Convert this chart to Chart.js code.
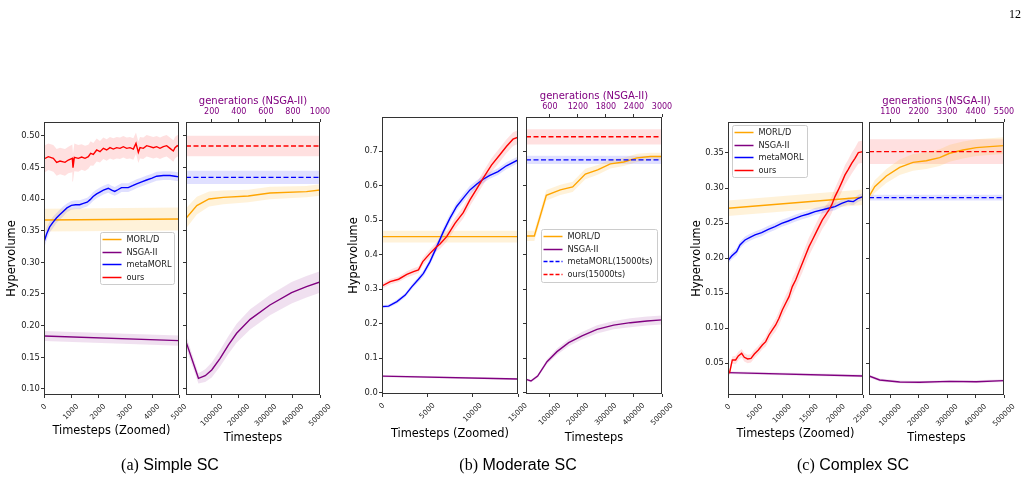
<!DOCTYPE html>
<html>
<head>
<meta charset="utf-8">
<script src="https://cdn.jsdelivr.net/npm/chart.js@4.4.1/dist/chart.umd.min.js"></script>
<style>
  body { margin: 0; background: #fff; }
  #wrap { position: relative; width: 1032px; height: 480px; overflow: hidden; }
  #wrap canvas { position: absolute; left: 0; top: 0; }
  .cap { position: absolute; top: 455px; font: 16px "Liberation Sans", Arial, sans-serif; color: #000;
         transform: translateX(-50%); white-space: nowrap; line-height: 20px; }
  .cap span { font-family: "Liberation Serif", "Times New Roman", serif; }
  #page { position: absolute; left: 1009px; top: 7px; font: 12px "Liberation Serif", serif; color: #000; }
</style>
</head>
<body>
<div id="wrap">
  <canvas id="c1" width="1032" height="480"></canvas>
  <canvas id="c2" width="1032" height="480"></canvas>
  <canvas id="c3" width="1032" height="480"></canvas>
  <canvas id="c4" width="1032" height="480"></canvas>
  <canvas id="c5" width="1032" height="480"></canvas>
  <canvas id="c6" width="1032" height="480"></canvas>
  <div class="cap" style="left:170px"><span>(a)</span> Simple SC</div>
  <div class="cap" style="left:518px"><span>(b)</span> Moderate SC</div>
  <div class="cap" style="left:853px"><span>(c)</span> Complex SC</div>
  <div id="page">12</div>
</div>
<script>
// ---- tick values ----
const simpleYTicks = [0.10, 0.15, 0.20, 0.25, 0.30, 0.35, 0.40, 0.45, 0.50];
const moderateYTicks = [0.0, 0.1, 0.2, 0.3, 0.4, 0.5, 0.6, 0.7];
const complexYTicks = [0.05, 0.10, 0.15, 0.20, 0.25, 0.30, 0.35];
const simpleZoomXTicks = [0, 1000, 2000, 3000, 4000, 5000];
const moderateZoomXTicks = [0, 5000, 10000, 15000];
const complexZoomXTicks = [0, 5000, 10000, 15000, 20000, 25000];
const fullXTicks = [100000, 200000, 300000, 400000, 500000];
const simpleGenTicks = [200, 400, 600, 800, 1000];
const moderateGenTicks = [600, 1200, 1800, 2400, 3000];
const complexGenTicks = [1100, 2200, 3300, 4400, 5500];

// ---- (a) Simple SC, zoomed ----
const sZ_morldX = [0, 5000];
const sZ_morldY = [0.3668, 0.3684];
const sZ_morldW = [0.018, 0.018];
const sZ_nsgaX = [0, 5000];
const sZ_nsgaY = [0.1837, 0.1763];
const sZ_nsgaW = [0.008, 0.008];
const sZ_metaX = [0, 100, 210, 330, 460, 580, 700, 850, 1015, 1170,
  1320, 1460, 1600, 1710, 1820, 1950, 2070, 2200, 2380, 2506,
  2620, 2750, 2870, 3000, 3120, 3280, 3430, 3620, 3800, 4000,
  4170, 4420, 4667, 4850, 5000];
const sZ_metaY = [0.332, 0.345, 0.356, 0.363, 0.370, 0.375, 0.380, 0.386, 0.390, 0.391,
  0.391, 0.393, 0.395, 0.399, 0.404, 0.408, 0.411, 0.414, 0.417, 0.414,
  0.412, 0.415, 0.418, 0.418, 0.418, 0.421, 0.424, 0.427, 0.430, 0.433,
  0.436, 0.437, 0.437, 0.436, 0.435];
const sZ_metaW = [0.010, 0.010, 0.009, 0.009, 0.008, 0.008, 0.008, 0.007, 0.007, 0.007,
  0.007, 0.007, 0.007, 0.007, 0.007, 0.007, 0.007, 0.007, 0.007, 0.007,
  0.007, 0.007, 0.007, 0.007, 0.007, 0.007, 0.007, 0.007, 0.007, 0.007,
  0.007, 0.007, 0.007, 0.007, 0.007];
const sZ_oursX = [0, 37, 160, 346, 469, 593, 778, 901, 1049, 1074,
  1123, 1272, 1395, 1519, 1642, 1728, 1827, 1951, 2074, 2198,
  2321, 2444, 2568, 2691, 2815, 2938, 3062, 3185, 3309, 3407,
  3494, 3556, 3679, 3802, 3926, 4049, 4173, 4296, 4420, 4543,
  4667, 4790, 4852, 4938, 5000];
const sZ_oursY = [0.4632, 0.4632, 0.4668, 0.4642, 0.4579, 0.4600, 0.4579, 0.4616, 0.4642, 0.4495,
  0.4658, 0.4642, 0.4663, 0.4642, 0.4668, 0.4721, 0.4705, 0.4774, 0.4747, 0.4800,
  0.4774, 0.4811, 0.4789, 0.4811, 0.4800, 0.4826, 0.4800, 0.4811, 0.4789, 0.4879,
  0.4737, 0.4811, 0.4800, 0.4842, 0.4826, 0.4811, 0.4826, 0.4800, 0.4826, 0.4842,
  0.4800, 0.4758, 0.4811, 0.4842, 0.4826];
const sZ_oursW = [0.021, 0.021, 0.021, 0.021, 0.021, 0.021, 0.021, 0.021, 0.022, 0.022,
  0.022, 0.021, 0.020, 0.020, 0.019, 0.019, 0.018, 0.018, 0.017, 0.017,
  0.017, 0.017, 0.017, 0.017, 0.017, 0.017, 0.017, 0.017, 0.017, 0.017,
  0.017, 0.017, 0.017, 0.017, 0.017, 0.017, 0.017, 0.017, 0.017, 0.017,
  0.017, 0.017, 0.017, 0.017, 0.017];

// ---- (a) Simple SC, full ----
const sF_morldX = [5000, 45000, 90000, 143000, 235000, 315000, 450000, 500000];
const sF_morldY = [0.3695, 0.3895, 0.4000, 0.4026, 0.4047, 0.4095, 0.4116, 0.4142];
const sF_morldW = [0.016, 0.014, 0.012, 0.011, 0.010, 0.010, 0.009, 0.009];
const sF_nsgaX = [5000, 51000, 76000, 100000, 131000, 162000, 192000, 242000, 315000, 395000, 450000, 500000];
const sF_nsgaY = [0.1747, 0.1168, 0.1210, 0.1300, 0.1484, 0.1695, 0.1879, 0.2100, 0.2326, 0.2521, 0.2616, 0.2689];
const sF_nsgaW = [0.010, 0.008, 0.010, 0.012, 0.013, 0.014, 0.015, 0.016, 0.016, 0.017, 0.017, 0.017];
const sF_metaX = [5000, 500000];
const sF_metaY = [0.4342, 0.4342];
const sF_metaW = [0.0105, 0.0105];
const sF_oursX = [5000, 500000];
const sF_oursY = [0.4837, 0.4837];
const sF_oursW = [0.016, 0.016];

// ---- (b) Moderate SC, zoomed ----
const mZ_morldX = [0, 15000];
const mZ_morldY = [0.4526, 0.4526];
const mZ_morldW = [0.017, 0.017];
const mZ_nsgaX = [0, 15000];
const mZ_nsgaY = [0.0480, 0.0397];
const mZ_nsgaW = [0.003, 0.003];
const mZ_metaX = [0, 730, 1650, 2560, 3300, 4025, 4570, 5300, 6040, 6770,
  7500, 8230, 8960, 9700, 10430, 11160, 11890, 12800, 13720, 15000];
const mZ_metaY = [0.2495, 0.2510, 0.2640, 0.2830, 0.3075, 0.3290, 0.3460, 0.3800, 0.4236, 0.4670,
  0.5060, 0.5400, 0.5640, 0.5880, 0.6045, 0.6190, 0.6300, 0.6410, 0.6580, 0.6750];
const mZ_metaW = [0.005, 0.005, 0.006, 0.006, 0.007, 0.008, 0.009, 0.010, 0.011, 0.012,
  0.012, 0.012, 0.012, 0.012, 0.011, 0.011, 0.010, 0.010, 0.010, 0.010];
const mZ_oursX = [0, 900, 1830, 2740, 3475, 4025, 4500, 5300, 6040, 6400,
  7135, 8050, 8960, 9700, 10430, 11160, 12075, 13000, 13720, 14450, 15000];
const mZ_oursY = [0.3095, 0.3220, 0.3290, 0.3430, 0.3510, 0.3560, 0.3800, 0.4040, 0.4236, 0.4310,
  0.4526, 0.4910, 0.5220, 0.5590, 0.5900, 0.6220, 0.6600, 0.6900, 0.7140, 0.7350, 0.7410];
const mZ_oursW = [0.008, 0.008, 0.008, 0.009, 0.010, 0.010, 0.011, 0.012, 0.013, 0.014,
  0.015, 0.016, 0.017, 0.018, 0.018, 0.019, 0.020, 0.020, 0.020, 0.020, 0.020];

// ---- (b) Moderate SC, full ----
const mF_morldX = [15000, 44700, 87500, 137400, 181400, 226600, 270600, 315700, 363300, 410900, 458400, 500000];
const mF_morldY = [0.4545, 0.4545, 0.5725, 0.5880, 0.5967, 0.6340, 0.6460, 0.6634, 0.6690, 0.6810, 0.6847, 0.6847];
const mF_morldW = [0.015, 0.015, 0.015, 0.015, 0.015, 0.015, 0.014, 0.013, 0.012, 0.012, 0.011, 0.011];
const mF_nsgaX = [15000, 32800, 56600, 89900, 125500, 167200, 214700, 268200, 327700, 387100, 446600, 500000];
const mF_nsgaY = [0.0387, 0.0338, 0.0480, 0.0900, 0.1190, 0.1450, 0.1650, 0.1838, 0.1960, 0.2030, 0.2080, 0.2110];
const mF_nsgaW = [0.004, 0.004, 0.005, 0.007, 0.009, 0.010, 0.011, 0.012, 0.012, 0.013, 0.013, 0.013];
const mF_metaX = [15000, 500000];
const mF_metaY = [0.675, 0.675];
const mF_metaW = [0.012, 0.012];
const mF_oursX = [15000, 500000];
const mF_oursY = [0.742, 0.742];
const mF_oursW = [0.022, 0.022];

// ---- (c) Complex SC, zoomed ----
const cZ_morldX = [0, 25000];
const cZ_morldY = [0.2711, 0.2868];
const cZ_morldW = [0.011, 0.011];
const cZ_nsgaX = [0, 25000];
const cZ_nsgaY = [0.0367, 0.0320];
const cZ_nsgaW = [0.002, 0.002];
const cZ_metaX = [0, 680, 1600, 2220, 3150, 4070, 5000, 6230, 7470, 8700,
  9940, 11170, 12410, 13640, 14880, 16110, 17350, 18580, 19810, 21050,
  22280, 23210, 24140, 25000];
const cZ_metaY = [0.1965, 0.2031, 0.2093, 0.2188, 0.2259, 0.2297, 0.2331, 0.2364, 0.2412, 0.2450,
  0.2497, 0.2530, 0.2568, 0.2602, 0.2630, 0.2664, 0.2687, 0.2711, 0.2735, 0.2782,
  0.2816, 0.2806, 0.2854, 0.2878];
const cZ_metaW = [0.005, 0.005, 0.005, 0.005, 0.005, 0.005, 0.005, 0.005, 0.005, 0.005,
  0.005, 0.005, 0.005, 0.005, 0.005, 0.005, 0.005, 0.005, 0.005, 0.005,
  0.005, 0.005, 0.005, 0.005];
const cZ_oursX = [0, 300, 800, 1420, 1910, 2530, 3020, 3640, 4260, 4880,
  5620, 6360, 6980, 7590, 8210, 8830, 9440, 10060, 10680, 11300,
  11910, 12530, 13150, 13770, 14380, 15000, 15620, 16230, 16850, 17470,
  18090, 18700, 19200, 19810, 20430, 21050, 21670, 22280, 22900, 23520,
  24140, 25000];
const cZ_oursY = [0.0370, 0.0370, 0.0548, 0.0548, 0.0605, 0.0643, 0.0586, 0.0562, 0.0571, 0.0633,
  0.0690, 0.0762, 0.0809, 0.0904, 0.0976, 0.1047, 0.1142, 0.1261, 0.1356, 0.1451,
  0.1594, 0.1689, 0.1808, 0.1927, 0.2045, 0.2164, 0.2259, 0.2354, 0.2450, 0.2545,
  0.2616, 0.2687, 0.2759, 0.2878, 0.2973, 0.3077, 0.3187, 0.3267, 0.3353, 0.3424,
  0.3505, 0.3519];
const cZ_oursW = [0.004, 0.004, 0.005, 0.006, 0.006, 0.006, 0.006, 0.006, 0.006, 0.006,
  0.006, 0.006, 0.007, 0.008, 0.008, 0.009, 0.010, 0.010, 0.011, 0.011,
  0.012, 0.012, 0.012, 0.013, 0.013, 0.013, 0.013, 0.013, 0.013, 0.013,
  0.013, 0.012, 0.012, 0.012, 0.013, 0.013, 0.014, 0.014, 0.015, 0.015,
  0.016, 0.016];

// ---- (c) Complex SC, full ----
const cF_morldX = [25000, 45000, 86000, 132900, 179800, 226700, 273600, 308800, 355700, 402600, 449500, 500000];
const cF_morldY = [0.2878, 0.3020, 0.3172, 0.3296, 0.3367, 0.3390, 0.3434, 0.3496, 0.3543, 0.3577, 0.3591, 0.3605];
const cF_morldW = [0.008, 0.009, 0.010, 0.011, 0.012, 0.012, 0.012, 0.012, 0.012, 0.012, 0.012, 0.012];
const cF_nsgaX = [25000, 62500, 132900, 203300, 308800, 402600, 500000];
const cF_nsgaY = [0.0319, 0.0262, 0.0234, 0.0229, 0.0243, 0.0238, 0.0253];
const cF_nsgaW = [0.002, 0.002, 0.002, 0.002, 0.002, 0.002, 0.002];
const cF_metaX = [25000, 500000];
const cF_metaY = [0.2863, 0.2863];
const cF_metaW = [0.004, 0.004];
const cF_oursX = [25000, 500000];
const cF_oursY = [0.352, 0.352];
const cF_oursW = [0.0176, 0.0176];

const FONT = '"DejaVu Sans", sans-serif';
const ORANGE = '#FFA500', PURPLE = '#800080', BLUE = '#0000FF', RED = '#FF0000';
const BANDS = { [ORANGE]: 'rgba(255,165,0,0.15)', [PURPLE]: 'rgba(128,0,128,0.12)',
                [BLUE]: 'rgba(0,0,255,0.12)', [RED]: 'rgba(255,0,0,0.12)' };

Chart.defaults.font.family = FONT;
Chart.defaults.color = '#222';

// lower band, upper band (filled to lower), then the mean line
function series(xs, ys, hw, color, label, order, dashed) {
  const lo = { data: xs.map((x, i) => ({ x: x, y: ys[i] - hw[i] })), borderWidth: 0, pointRadius: 0, fill: false, order: 20 };
  const hi = { data: xs.map((x, i) => ({ x: x, y: ys[i] + hw[i] })), borderWidth: 0, pointRadius: 0,
               fill: '-1', backgroundColor: BANDS[color], order: 20 };
  const line = { label: label, legendItem: true, data: xs.map((x, i) => ({ x: x, y: ys[i] })),
                 borderColor: color, borderWidth: 1.4, pointRadius: 0, fill: false, tension: 0,
                 borderDash: dashed ? [5, 2.5] : [], order: order };
  return [lo, hi, line];
}

const frame = {
  id: 'frame',
  afterDraw(c) {
    const a = c.chartArea, ctx = c.ctx;
    ctx.save();
    ctx.strokeStyle = '#333';
    ctx.lineWidth = 1;
    ctx.strokeRect(Math.round(a.left) + 0.5, Math.round(a.top) + 0.5,
                   Math.round(a.right - a.left) - 1, Math.round(a.bottom - a.top) - 1);
    ctx.restore();
  }
};

// matplotlib style x tick labels: rotated 45 deg, centred on the tick
const rotTicks = {
  id: 'rotTicks',
  afterDraw(c) {
    const s = c.scales.x, ctx = c.ctx, fs = 7.3;
    ctx.save();
    ctx.font = fs + 'px ' + FONT;
    ctx.fillStyle = '#222';
    ctx.textAlign = 'center';
    ctx.textBaseline = 'middle';
    s.ticks.forEach(t => {
      const txt = String(t.value);
      const w = ctx.measureText(txt).width;
      const e = (w + fs * 0.75) * Math.SQRT1_2;
      ctx.save();
      ctx.translate(s.getPixelForValue(t.value), s.top + 8.5 + e / 2);
      ctx.rotate(-Math.PI / 4);
      ctx.fillText(txt, 0, 0);
      ctx.restore();
    });
    ctx.restore();
  }
};

const boxLegend = {
  id: 'boxLegend',
  afterDraw(c, args, o) {
    if (!o || !o.show) return;
    const ctx = c.ctx;
    ctx.save();
    ctx.beginPath();
    ctx.roundRect(o.left + 0.5, o.top + 0.5, o.width, o.height, 2);
    ctx.fillStyle = 'rgba(255,255,255,0.8)';
    ctx.fill();
    ctx.strokeStyle = '#cccccc';
    ctx.lineWidth = 1;
    ctx.stroke();
    c.data.datasets.filter(d => d.legendItem).forEach((d, i) => {
      const y = Math.round(o.top + 7 + i * 12.5) + 0.5;
      ctx.strokeStyle = d.borderColor;
      ctx.lineWidth = 1.5;
      ctx.setLineDash(d.borderDash && d.borderDash.length ? [4, 2] : []);
      ctx.beginPath();
      ctx.moveTo(o.left + 2.5, y);
      ctx.lineTo(o.left + 21.5, y);
      ctx.stroke();
      ctx.setLineDash([]);
      ctx.fillStyle = '#222';
      ctx.font = '8.2px ' + FONT;
      ctx.textBaseline = 'middle';
      ctx.textAlign = 'left';
      ctx.fillText(d.label, o.left + 26.5, y);
    });
    ctx.restore();
  }
};

function panel(id, p) {
  const scales = {
    x: {
      type: 'linear', position: 'bottom', min: p.xMin, max: p.xMax,
      afterBuildTicks: s => { s.ticks = p.xTicks.map(v => ({ value: v })); },
      afterFit: s => { s.height = p.xH; },
      ticks: { display: false },
      grid: { drawOnChartArea: false, drawTicks: true, tickLength: 3, color: '#333' },
      border: { display: false },
      title: { display: true, text: p.xTitle, color: '#000', font: { size: 11.4 }, padding: { top: 4, bottom: 4 } }
    },
    y: {
      type: 'linear', position: 'left', min: p.yMin, max: p.yMax,
      afterBuildTicks: s => { s.ticks = p.yTicks.map(v => ({ value: v })); },
      afterFit: s => { s.width = p.yW; },
      ticks: { display: p.showY, autoSkip: false, padding: 1.2, color: '#222', font: { size: 8.4 },
               callback: v => v.toFixed(p.yDec) },
      grid: { drawOnChartArea: false, drawTicks: true, tickLength: 3, color: '#333' },
      border: { display: false },
      title: { display: p.showY, text: 'Hypervolume', color: '#000', font: { size: 11.4 }, padding: { top: 4, bottom: 4 } }
    }
  };
  if (p.genTicks) {
    scales.x2 = {
      type: 'linear', position: 'top', min: p.xMin * p.gen, max: p.xMax * p.gen,
      afterBuildTicks: s => { s.ticks = p.genTicks.map(v => ({ value: v })); },
      afterFit: s => { s.height = p.topH; },
      ticks: { autoSkip: false, maxRotation: 0, minRotation: 0, padding: 2.5, color: PURPLE, font: { size: 8 },
               callback: v => String(v) },
      grid: { drawOnChartArea: false, drawTicks: true, tickLength: 3, color: '#333' },
      border: { display: false },
      title: { display: true, text: 'generations (NSGA-II)', color: PURPLE, font: { size: 10 }, padding: { top: 4, bottom: 4 } }
    };
  }
  const [L, T, R, B] = p.box;
  new Chart(document.getElementById(id), {
    type: 'line',
    data: { datasets: p.datasets },
    options: {
      responsive: false, animation: false, devicePixelRatio: 1,
      layout: { padding: { left: L - p.yW, top: T - (p.topH || 0), right: 1032 - R, bottom: 480 - B - p.xH } },
      scales: scales,
      plugins: { legend: { display: false }, tooltip: { enabled: false }, boxLegend: p.legend || { show: false } }
    },
    plugins: [frame, rotTicks, boxLegend]
  });
}

panel('c1', {
  box: [44, 122, 179, 395], yW: 42.5, xH: 46.5, showY: true, yDec: 2,
  xMin: 0, xMax: 5000, yMin: 0.0905, yMax: 0.5216, xTicks: simpleZoomXTicks, yTicks: simpleYTicks,
  xTitle: 'Timesteps (Zoomed)',
  legend: { show: true, left: 100, top: 232, width: 74, height: 52 },
  datasets: [].concat(
    series(sZ_morldX, sZ_morldY, sZ_morldW, ORANGE, 'MORL/D', 4),
    series(sZ_nsgaX, sZ_nsgaY, sZ_nsgaW, PURPLE, 'NSGA-II', 3),
    series(sZ_metaX, sZ_metaY, sZ_metaW, BLUE, 'metaMORL', 2),
    series(sZ_oursX, sZ_oursY, sZ_oursW, RED, 'ours', 1))
});
panel('c2', {
  box: [186, 122, 320, 395], yW: 4, xH: 53.5, topH: 30.3, showY: false, yDec: 2,
  xMin: 5000, xMax: 500000, yMin: 0.0905, yMax: 0.5216, xTicks: fullXTicks, yTicks: simpleYTicks,
  gen: 1 / 500, genTicks: simpleGenTicks, xTitle: 'Timesteps',
  datasets: [].concat(
    series(sF_morldX, sF_morldY, sF_morldW, ORANGE, 'MORL/D', 4),
    series(sF_nsgaX, sF_nsgaY, sF_nsgaW, PURPLE, 'NSGA-II', 3),
    series(sF_metaX, sF_metaY, sF_metaW, BLUE, 'metaMORL', 2, true),
    series(sF_oursX, sF_oursY, sF_oursW, RED, 'ours', 1, true))
});
panel('c3', {
  box: [382, 117, 518, 394], yW: 38.8, xH: 51.1, showY: true, yDec: 1,
  xMin: 0, xMax: 15000, yMin: -0.0038, yMax: 0.7994, xTicks: moderateZoomXTicks, yTicks: moderateYTicks,
  xTitle: 'Timesteps (Zoomed)',
  datasets: [].concat(
    series(mZ_morldX, mZ_morldY, mZ_morldW, ORANGE, 'MORL/D', 4),
    series(mZ_nsgaX, mZ_nsgaY, mZ_nsgaW, PURPLE, 'NSGA-II', 3),
    series(mZ_metaX, mZ_metaY, mZ_metaW, BLUE, 'metaMORL', 2),
    series(mZ_oursX, mZ_oursY, mZ_oursW, RED, 'ours', 1))
});
panel('c4', {
  box: [526, 117, 662, 394], yW: 4, xH: 54.5, topH: 30.3, showY: false, yDec: 1,
  xMin: 15000, xMax: 500000, yMin: -0.0038, yMax: 0.7994, xTicks: fullXTicks, yTicks: moderateYTicks,
  gen: 3000 / 500000, genTicks: moderateGenTicks, xTitle: 'Timesteps',
  legend: { show: true, left: 541, top: 229, width: 116, height: 53 },
  datasets: [].concat(
    series(mF_morldX, mF_morldY, mF_morldW, ORANGE, 'MORL/D', 4),
    series(mF_nsgaX, mF_nsgaY, mF_nsgaW, PURPLE, 'NSGA-II', 3),
    series(mF_metaX, mF_metaY, mF_metaW, BLUE, 'metaMORL(15000ts)', 2, true),
    series(mF_oursX, mF_oursY, mF_oursW, RED, 'ours(15000ts)', 1, true))
});
panel('c5', {
  box: [728, 122, 863, 395], yW: 42.1, xH: 50.1, showY: true, yDec: 2,
  xMin: 0, xMax: 25000, yMin: 0.0048, yMax: 0.3942, xTicks: complexZoomXTicks, yTicks: complexYTicks,
  xTitle: 'Timesteps (Zoomed)',
  legend: { show: true, left: 732, top: 125, width: 75, height: 52 },
  datasets: [].concat(
    series(cZ_morldX, cZ_morldY, cZ_morldW, ORANGE, 'MORL/D', 4),
    series(cZ_nsgaX, cZ_nsgaY, cZ_nsgaW, PURPLE, 'NSGA-II', 3),
    series(cZ_metaX, cZ_metaY, cZ_metaW, BLUE, 'metaMORL', 2),
    series(cZ_oursX, cZ_oursY, cZ_oursW, RED, 'ours', 1))
});
panel('c6', {
  box: [869, 122, 1004, 395], yW: 4, xH: 53.5, topH: 30.3, showY: false, yDec: 2,
  xMin: 25000, xMax: 500000, yMin: 0.0048, yMax: 0.3942, xTicks: fullXTicks, yTicks: complexYTicks,
  gen: 5500 / 500000, genTicks: complexGenTicks, xTitle: 'Timesteps',
  datasets: [].concat(
    series(cF_morldX, cF_morldY, cF_morldW, ORANGE, 'MORL/D', 4),
    series(cF_nsgaX, cF_nsgaY, cF_nsgaW, PURPLE, 'NSGA-II', 3),
    series(cF_metaX, cF_metaY, cF_metaW, BLUE, 'metaMORL', 2, true),
    series(cF_oursX, cF_oursY, cF_oursW, RED, 'ours', 1, true))
});
</script>
</body>
</html>
